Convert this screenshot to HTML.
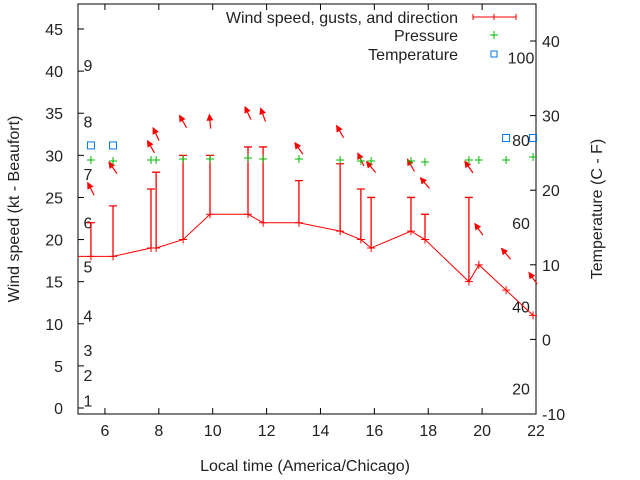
<!DOCTYPE html>
<html><head><meta charset="utf-8"><style>
body{margin:0;background:#fff}
svg{display:block;font-family:"Liberation Sans",sans-serif}
</style></head><body>
<svg id="c" width="640" height="480"></svg>
<script>
const times=[5.48,6.30,7.71,7.90,8.90,9.90,11.31,11.87,13.20,14.73,15.50,15.88,17.36,17.88,19.51,19.88,20.89,21.89];
const windSpeed=[18,18,19,19,20,23,23,22,22,21,20,19,21,20,15,17,14,11];
const windGust=[22,24,26,28,30,30,31,31,27,29,26,25,25,23,25,null,null,null];
const arrowLevel=[26,28.5,31,32.5,34,34,35,34.8,30.8,32.8,29.5,28.6,28.8,26.7,28.6,21.2,18.3,15.4];
const arrowHeading=[333,325,330,335,330,355,335,340,325,330,335,320,330,320,325,325,320,325];
const pressure=[1015.0,1014.9,1015.0,1015.0,1015.1,1015.1,1015.2,1015.1,1015.1,1015.0,1014.9,1014.9,1014.9,1014.8,1015.0,1015.0,1015.0,1015.3];
const tempTimes=[5.48,6.30,20.89,21.89];
const tempC=[26,26,27,27];
const xTicks=[6,8,10,12,14,16,18,20,22];
const yTicks=[0,5,10,15,20,25,30,35,40,45];
const y2Ticks=[-10,0,10,20,30,40];
const beaufort=[[1,0.9],[2,3.9],[3,6.9],[4,11],[5,16.8],[6,22],[7,27.8],[8,34],[9,40.7]];
const fahr=[[20,-6.6],[40,4.4],[60,15.6],[80,26.7],[100,37.8]];

const FS=16;
const L=78,R=536,T=4,B=414;
const X=t=>L+(t-5)*(R-L)/17;
const Y=v=>408-v*8.422;
const Y2=v=>414-(v+10)*7.46;
const YP=p=>160-(p-1015)*10;
const svg=document.getElementById('c');const NS='http://www.w3.org/2000/svg';
function mk(tag,at,parent){const e=document.createElementNS(NS,tag);for(const k in at)e.setAttribute(k,at[k]);(parent||svg).appendChild(e);return e;}
function txt(s,x,y,anchor,parent){const e=mk('text',{x:x,y:y,'font-size':FS,fill:'#222','text-anchor':anchor||'middle'},parent);e.textContent=s;return e;}

const frame=mk('rect',{x:L,y:T,width:R-L,height:B-T,fill:'none',stroke:'#000','stroke-width':1});


const gx=mk('g',{});
xTicks.forEach(t=>{const x=X(t);mk('line',{x1:x,y1:B,x2:x,y2:B-6,stroke:'#000'},gx);mk('line',{x1:x,y1:T,x2:x,y2:T+6,stroke:'#000'},gx);
 const e=txt(String(t),x,B+22,'middle',gx);});
const gy=mk('g',{});
yTicks.forEach(v=>{const y=Y(v);mk('line',{x1:L,y1:y,x2:L+6,y2:y,stroke:'#000'},gy);
 const e=txt(String(v),L-15,y+6,'end',gy);});
const gy2=mk('g',{});
y2Ticks.forEach(v=>{const y=Y2(v);mk('line',{x1:R,y1:y,x2:R-6,y2:y,stroke:'#000'},gy2);
 const e=txt(String(v),R+6,y+6,'start',gy2);});
beaufort.forEach(b=>{const e=txt(String(b[0]),88,Y(b[1])+6,'middle');});
fahr.forEach(f=>{const e=txt(String(f[0]),521,Y2(f[1])+6,'middle');});

let e=txt('Local time (America/Chicago)',305,471);
e=mk('text',{x:0,y:0,'font-size':FS,fill:'#222','text-anchor':'middle',transform:'translate(19,209) rotate(-90)'});e.textContent='Wind speed (kt - Beaufort)';

e=mk('text',{x:0,y:0,'font-size':FS,fill:'#222','text-anchor':'middle',transform:'translate(602,209) rotate(-90)'});e.textContent='Temperature (C - F)';


const gw=mk('g',{stroke:'#f00',fill:'none'});
const pl=mk('polyline',{points:[`${L},${Y(windSpeed[0])}`].concat(times.map((t,i)=>X(t)+','+Y(windSpeed[i]))).join(' '),'stroke-width':1},gw);

times.forEach((t,i)=>{const x=X(t),y=Y(windSpeed[i]);
 const p=mk('path',{d:`M${x-4} ${y}H${x+4}M${x} ${y-4}V${y+4}`},gw);
 if(windGust[i]!=null){const g=Y(windGust[i]);const b=mk('path',{d:`M${x} ${y}V${g}M${x-4} ${g}H${x+4}`,'stroke-width':1.3},gw);
  }
 const a=arrowHeading[i]*Math.PI/180,cx=x,cy=Y(arrowLevel[i]);const dx=Math.sin(a)*7,dy=-Math.cos(a)*7;
 const hx=cx+dx,hy=cy+dy,tx=cx-dx,ty=cy-dy;const ang=Math.atan2(hy-ty,hx-tx);
 const p1=[hx-6*Math.cos(ang-0.45),hy-6*Math.sin(ang-0.45)],p2=[hx-6*Math.cos(ang+0.45),hy-6*Math.sin(ang+0.45)];
 const ar=mk('g',{},gw);
 mk('line',{x1:tx,y1:ty,x2:hx,y2:hy,'stroke-width':1.2},ar);mk('polygon',{points:`${hx},${hy} ${p1} ${p2}`,fill:'#f00'},ar);
});
const gp=mk('g',{stroke:'#0b0'});
times.forEach((t,i)=>{const x=X(t),y=YP(pressure[i]);const p=mk('path',{d:`M${x-4} ${y}H${x+4}M${x} ${y-4}V${y+4}`},gp);
 });
const gt=mk('g',{stroke:'#07e',fill:'none'});
tempTimes.forEach((t,i)=>{const r=mk('rect',{x:X(t)-3.5,y:Y2(tempC[i])-3.5,width:7,height:7},gt);
 });
const lg=mk('g',{});
[['Wind speed, gusts, and direction',17],['Pressure',35],['Temperature',54]].forEach((l,i)=>{const t=txt(l[0],458,l[1]+6,'end',lg);
 });
mk('path',{d:'M473 17H516M473 14V20M494 14V20M516 14V20',stroke:'#f00',fill:'none'},lg);
mk('path',{d:'M490 35H498M494 31V39',stroke:'#0b0'},lg);
mk('rect',{x:491,y:51,width:6,height:6,stroke:'#07e',fill:'none'},lg);
</script>
</body></html>
